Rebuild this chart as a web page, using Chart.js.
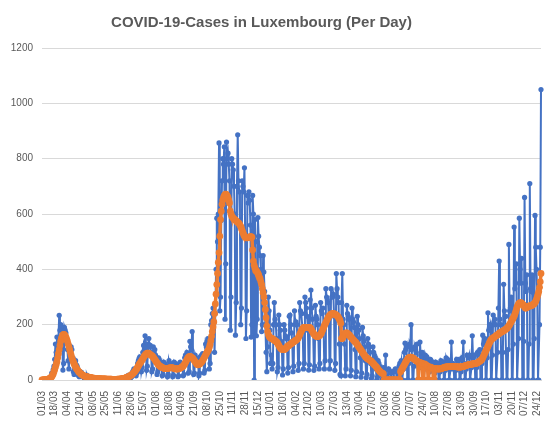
<!DOCTYPE html>
<html>
<head>
<meta charset="utf-8">
<title>COVID-19-Cases in Luxembourg</title>
<script src="https://cdn.jsdelivr.net/npm/chart.js@4.4.1/dist/chart.umd.min.js"></script>
<style>
  html, body { margin: 0; padding: 0; background: #ffffff; }
</style>
</head>
<body>
<canvas id="chart" width="556" height="426"></canvas>
<script>
const CHART_TITLE = `COVID-19-Cases in Luxembourg (Per Day)`;
const START_DAY = [2020, 2, 1];
const LABEL_STEP = 17;
const Y_MAX = 1200;
const Y_STEP = 200;

// daily reported cases, one row = one week (Sun..Sat)
const dailyCases = [
  0, 0, 1, 0, 1, 2, 3,
  1, 2, 3, 2, 7, 12, 25,
  22, 38, 50, 75, 130, 100, 155,
  120, 150, 234, 180, 200, 190, 170,
  36, 60, 190, 180, 170, 140, 110,
  70, 40, 100, 97, 120, 110, 80,
  30, 20, 60, 70, 55, 50, 40,
  15, 12, 30, 25, 28, 20, 18,
  8, 6, 15, 14, 18, 10, 9,
  4, 3, 12, 10, 9, 8, 6,
  2, 3, 8, 7, 6, 5, 5,
  1, 2, 6, 5, 5, 4, 4,
  1, 1, 5, 4, 3, 3, 4,
  0, 1, 4, 3, 2, 3, 2,
  0, 1, 3, 4, 3, 5, 4,
  1, 2, 6, 7, 8, 9, 8,
  3, 5, 14, 13, 18, 16, 17,
  8, 12, 28, 33, 40, 38, 35,
  15, 25, 60, 70, 78, 84, 80,
  30, 45, 100, 125, 110, 160, 120,
  35, 50, 130, 150, 120, 125, 100,
  30, 40, 120, 100, 110, 90, 80,
  20, 30, 80, 75, 65, 60, 55,
  15, 20, 65, 60, 55, 50, 45,
  12, 20, 70, 60, 55, 58, 50,
  12, 18, 65, 60, 55, 50, 45,
  12, 15, 60, 65, 60, 55, 55,
  15, 20, 80, 90, 85, 100, 95,
  25, 30, 140, 120, 110, 175, 90,
  20, 25, 90, 80, 75, 70, 60,
  15, 25, 85, 80, 90, 95, 80,
  25, 35, 130, 120, 140, 150, 135,
  40, 60, 200, 215, 240, 260, 210,
  100, 240, 400, 585, 500, 600, 857,
  250, 300, 577, 720, 800, 780, 843,
  220, 420, 860, 800, 820, 780, 720,
  180, 300, 800, 780, 760, 700, 600,
  162, 280, 700, 886, 720, 680, 560,
  200, 260, 720, 700, 680, 767, 520,
  150, 250, 667, 640, 680, 650, 560,
  155, 200, 667, 600, 0, 580, 500,
  160, 220, 587, 520, 480, 450, 400,
  175, 200, 450, 390, 320, 200, 100,
  30, 120, 300, 250, 180, 60, 90,
  40, 60, 200, 280, 220, 200, 150,
  30, 45, 235, 200, 180, 140, 130,
  18, 40, 200, 180, 160, 150, 120,
  25, 45, 230, 235, 200, 170, 140,
  30, 50, 250, 200, 210, 200, 150,
  35, 60, 280, 250, 240, 240, 180,
  40, 60, 300, 280, 260, 230, 180,
  36, 55, 290, 325, 260, 220, 170,
  35, 50, 270, 230, 220, 200, 150,
  40, 60, 280, 250, 240, 260, 180,
  40, 70, 330, 300, 290, 280, 220,
  40, 70, 330, 300, 300, 310, 230,
  35, 60, 385, 330, 300, 280, 130,
  20, 15, 280, 385, 220, 200, 130,
  15, 40, 270, 240, 230, 220, 160,
  15, 35, 260, 220, 210, 190, 110,
  12, 30, 230, 200, 180, 150, 80,
  10, 25, 190, 160, 140, 120, 70,
  8, 20, 150, 130, 120, 100, 60,
  5, 15, 120, 100, 90, 80, 40,
  0, 10, 70, 60, 50, 40, 20,
  0, 5, 45, 40, 35, 90, 0,
  0, 10, 40, 35, 30, 25, 0,
  0, 8, 30, 35, 40, 30, 0,
  0, 15, 50, 60, 55, 70, 0,
  0, 40, 100, 133, 110, 120, 0,
  0, 60, 130, 120, 200, 110, 0,
  0, 50, 120, 110, 100, 130, 0,
  0, 45, 137, 90, 80, 100, 0,
  0, 40, 90, 80, 85, 70, 0,
  0, 30, 75, 70, 65, 60, 0,
  0, 25, 65, 60, 60, 55, 0,
  0, 30, 70, 65, 60, 65, 0,
  0, 35, 80, 70, 75, 70, 0,
  0, 40, 137, 60, 60, 40, 0,
  0, 35, 75, 70, 75, 70, 0,
  0, 30, 80, 75, 137, 60, 0,
  0, 40, 90, 85, 80, 90, 0,
  0, 45, 160, 80, 85, 90, 0,
  0, 45, 100, 95, 90, 110, 0,
  0, 60, 162, 130, 140, 150, 0,
  0, 80, 243, 180, 190, 200, 0,
  0, 90, 235, 210, 220, 200, 0,
  0, 100, 260, 430, 220, 200, 0,
  0, 100, 346, 250, 230, 230, 0,
  0, 110, 490, 250, 260, 300, 0,
  0, 130, 553, 330, 350, 420, 0,
  0, 150, 585, 400, 350, 440, 0,
  0, 140, 660, 350, 320, 380, 0,
  0, 130, 710, 330, 320, 380, 0,
  0, 150, 595, 480, 400, 300, 0,
  0, 200, 480, 1050
];

// 7-day average as plotted (orange), same rows
const averageCases = [
  0, 0, 0, 1, 1, 1, 2,
  2, 3, 4, 5, 7, 9, 12,
  16, 22, 30, 38, 47, 56, 66,
  80, 95, 110, 125, 140, 150, 158,
  163, 165, 164, 160, 155, 148, 140,
  130, 120, 110, 100, 90, 80, 72,
  65, 58, 52, 47, 42, 38, 34,
  30, 28, 25, 22, 20, 18, 17,
  15, 14, 13, 12, 11, 11, 10,
  10, 9, 9, 8, 8, 7, 7,
  7, 6, 6, 6, 5, 5, 5,
  5, 5, 4, 4, 4, 4, 4,
  4, 4, 3, 3, 3, 3, 3,
  3, 3, 3, 2, 2, 2, 2,
  2, 2, 2, 3, 3, 3, 3,
  4, 4, 5, 5, 6, 6, 7,
  8, 9, 10, 11, 12, 13, 15,
  17, 19, 21, 24, 27, 30, 33,
  37, 41, 46, 51, 56, 60, 64,
  68, 72, 77, 82, 86, 90, 93,
  95, 97, 97, 96, 94, 92, 90,
  88, 85, 82, 78, 74, 70, 66,
  62, 58, 55, 52, 50, 48, 46,
  45, 44, 43, 42, 42, 42, 42,
  42, 43, 43, 44, 44, 45, 45,
  44, 43, 42, 41, 40, 40, 40,
  40, 41, 42, 43, 44, 46, 48,
  50, 54, 58, 63, 68, 74, 79,
  82, 84, 85, 84, 82, 80, 78,
  74, 70, 66, 62, 58, 56, 55,
  56, 58, 60, 63, 66, 70, 75,
  80, 85, 90, 95, 100, 105, 110,
  118, 128, 142, 158, 175, 192, 210,
  240, 275, 310, 345, 385, 425, 460,
  520, 580, 610, 635, 650, 660, 665,
  670, 672, 670, 665, 660, 650, 640,
  610, 600, 592, 588, 585, 582, 580,
  578, 575, 572, 570, 568, 565, 560,
  555, 548, 540, 532, 525, 520, 516,
  515, 514, 514, 515, 516, 517, 518,
  518, 516, 470, 430, 415, 405, 395,
  395, 390, 385, 380, 372, 365, 355,
  345, 330, 315, 300, 280, 255, 225,
  195, 175, 165, 158, 154, 152, 150,
  150, 148, 146, 144, 142, 140, 138,
  135, 130, 125, 120, 116, 113, 111,
  110, 110, 110, 111, 113, 116, 120,
  122, 124, 126, 128, 130, 132, 134,
  136, 138, 140, 142, 144, 146, 148,
  152, 158, 164, 170, 176, 182, 186,
  189, 190, 190, 190, 190, 190, 190,
  190, 190, 188, 185, 180, 175, 170,
  166, 163, 160, 158, 157, 157, 158,
  160, 162, 165, 170, 176, 183, 190,
  196, 202, 208, 214, 220, 225, 230,
  233, 236, 238, 240, 240, 240, 240,
  238, 236, 234, 232, 230, 225, 220,
  215, 205, 150, 150, 155, 160, 165,
  168, 170, 170, 168, 166, 163, 160,
  157, 154, 150, 147, 144, 141, 138,
  136, 132, 128, 124, 120, 116, 112,
  108, 104, 100, 96, 92, 88, 84,
  81, 79, 77, 75, 73, 71, 69,
  67, 64, 61, 58, 55, 52, 49,
  46, 42, 38, 35, 32, 29, 27,
  25, 24, 22, 0, 0, 0, 0,
  0, 0, 0, 0, 0, 0, 0,
  0, 0, 0, 0, 0, 0, 0,
  0, 0, 0, 0, 30, 35, 40,
  45, 50, 55, 60, 65, 70, 74,
  78, 80, 82, 83, 83, 82, 80,
  78, 76, 74, 72, 70, 68, 66,
  0, 64, 63, 62, 61, 60, 0,
  0, 58, 56, 54, 52, 50, 0,
  0, 47, 46, 45, 44, 43, 0,
  0, 42, 41, 40, 40, 40, 40,
  40, 40, 41, 42, 43, 44, 45,
  46, 46, 47, 47, 48, 48, 48,
  48, 48, 48, 48, 48, 48, 48,
  48, 48, 48, 47, 47, 47, 47,
  47, 47, 48, 48, 49, 50, 51,
  52, 53, 54, 55, 55, 56, 56,
  57, 57, 58, 58, 59, 59, 60,
  60, 61, 62, 64, 66, 68, 70,
  72, 75, 80, 86, 92, 98, 104,
  110, 116, 122, 128, 134, 140, 145,
  148, 150, 152, 154, 156, 158, 160,
  162, 164, 166, 168, 170, 172, 174,
  175, 176, 178, 180, 182, 184, 186,
  188, 192, 196, 200, 205, 210, 216,
  220, 225, 230, 238, 246, 255, 264,
  270, 275, 278, 280, 280, 278, 275,
  272, 268, 264, 260, 260, 262, 264,
  266, 268, 268, 268, 268, 270, 272,
  274, 276, 280, 285, 292, 300, 310,
  320, 335, 355, 385
];

const pad = (n) => String(n).padStart(2, `0`);

const dayLabels = dailyCases.map((_, i) => {
  const date = new Date(Date.UTC(START_DAY[0], START_DAY[1], START_DAY[2] + i));
  return `${pad(date.getUTCDate())}/${pad(date.getUTCMonth() + 1)}`;
});

const textColor = `#595959`;
const gridColor = `#d9d9d9`;
const fontFamily = `"Liberation Sans", Arial, sans-serif`;

// the original title sits a bit left of the canvas centre
const titleShift = {
  id: `titleShift`,
  afterLayout(chart) {
    const block = chart.titleBlock;
    if (block) {
      block.left -= 11;
      block.right -= 11;
    }
  }
};

new Chart(document.getElementById(`chart`), {
  type: `line`,
  plugins: [titleShift],
  data: {
    labels: dayLabels,
    datasets: [{
      label: `Cases`,
      data: dailyCases,
      borderColor: `#4472C4`,
      backgroundColor: `#4472C4`,
      borderWidth: 2,
      pointRadius: 2.6,
      pointBorderWidth: 0,
      order: 1
    }, {
      label: `Average`,
      data: averageCases,
      borderColor: `#ED7D31`,
      backgroundColor: `#ED7D31`,
      borderWidth: 3.5,
      pointRadius: 3.4,
      pointBorderWidth: 0,
      order: 0
    }]
  },
  options: {
    responsive: false,
    animation: false,
    devicePixelRatio: 1,
    layout: {padding: {left: 0, right: 11, top: 0, bottom: 0}},
    plugins: {
      legend: {display: false},
      tooltip: {enabled: false},
      title: {
        display: true,
        text: CHART_TITLE,
        color: textColor,
        font: {family: fontFamily, size: 15, weight: `bold`},
        padding: {top: 14, bottom: 16}
      }
    },
    scales: {
      x: {
        offset: false,
        grid: {display: false},
        border: {display: true, color: gridColor},
        afterFit: (scale) => {
          scale.height = 46;
        },
        ticks: {
          autoSkip: false,
          minRotation: 90,
          maxRotation: 90,
          padding: 3,
          color: textColor,
          font: {family: fontFamily, size: 10},
          callback: (value, index) => (index % LABEL_STEP === 0 ? dayLabels[index] : ``)
        }
      },
      y: {
        min: 0,
        max: Y_MAX,
        afterFit: (scale) => {
          scale.width = 42;
        },
        grid: {color: gridColor, drawTicks: false},
        border: {display: false},
        ticks: {
          stepSize: Y_STEP,
          padding: 9,
          color: textColor,
          font: {family: fontFamily, size: 10},
          callback: (value) => String(value)
        }
      }
    }
  }
});
</script>
</body>
</html>
